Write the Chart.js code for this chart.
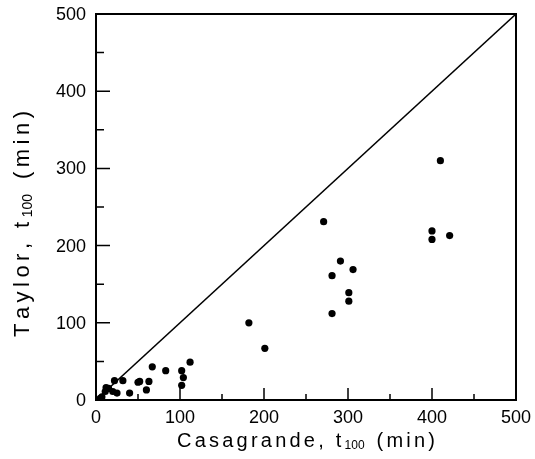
<!DOCTYPE html>
<html><head><meta charset="utf-8">
<script src="https://cdn.jsdelivr.net/npm/chart.js@4/dist/chart.umd.min.js"></script>
<style>html,body{margin:0;padding:0;background:#fff}#wrap{width:535px;height:459px;position:relative}</style>
</head><body><div id="wrap"><canvas id="c" width="535" height="459"></canvas></div>
<script>
const casagrande = [410, 400, 400, 421, 271, 291, 306, 281, 301, 301, 281, 182, 201, 112, 67, 83, 102, 104, 102, 52, 63, 60, 50, 40, 32, 22, 20, 25, 15, 12, 11, 7, 5];
const taylor =     [310, 219, 208, 213, 231, 180, 169, 161, 139, 128, 112, 100,  67,  49, 43, 38,  38,  29,  19, 24, 24, 13, 23,  9, 25, 25, 11,  9, 15, 16, 11, 4, 2];
const lineX = [0, 500];
const lineY = [0, 500];
const xTicks = [0, 100, 200, 300, 400, 500];
const yTicks = [0, 100, 200, 300, 400, 500];
const minorTicks = [50, 150, 250, 350, 450];
const xTitle = ['Casagrande, t', '100', ' (min)'];
const yTitle = ['Taylor, t', '100', ' (min)'];

const pts = casagrande.map((x, i) => ({x: x, y: taylor[i]}));
const diag = lineX.map((x, i) => ({x: x, y: lineY[i]}));

const FONT = '"Liberation Sans", Arial, sans-serif';

function measure(ctx, s, size, sp) {
  ctx.font = size + 'px ' + FONT;
  let w = 0;
  for (const ch of s) w += ctx.measureText(ch).width + sp;
  return w;
}
function drawSpaced(ctx, s, x, y, size, sp) {
  ctx.font = size + 'px ' + FONT;
  for (const ch of s) { ctx.fillText(ch, x, y); x += ctx.measureText(ch).width + sp; }
  return x;
}
// draws parts centered at origin, stretched by letter spacing to the target width
function drawSubTitle(ctx, parts, size, target) {
  const subSize = Math.round(size * 0.62);
  const n = [...parts[0]].length + [...parts[2]].length;
  const nat = measure(ctx, parts[0], size, 0) + measure(ctx, parts[1], subSize, 0) + measure(ctx, parts[2], size, 0);
  const sp = Math.max(0, (target - nat) / n);
  let x = -target / 2;
  x = drawSpaced(ctx, parts[0], x, 0, size, sp);
  x = drawSpaced(ctx, parts[1], x, size * 0.12, subSize, 0);
  drawSpaced(ctx, parts[2], x + sp, 0, size, sp);
}

const framePlugin = {
  id: 'frame',
  afterDatasetsDraw(chart) {
    const {ctx, chartArea: a, scales: {x, y}} = chart;
    ctx.save();
    ctx.strokeStyle = '#000';
    ctx.lineWidth = 2;
    ctx.strokeRect(a.left, a.top, a.right - a.left, a.bottom - a.top);
    ctx.lineWidth = 1.5;
    ctx.beginPath();
    xTicks.forEach(v => { const p = x.getPixelForValue(v); ctx.moveTo(p, a.bottom); ctx.lineTo(p, a.bottom - 12); });
    minorTicks.forEach(v => { const p = x.getPixelForValue(v); ctx.moveTo(p, a.bottom); ctx.lineTo(p, a.bottom - 6); });
    yTicks.forEach(v => { const p = y.getPixelForValue(v); ctx.moveTo(a.left, p); ctx.lineTo(a.left + 14, p); });
    minorTicks.forEach(v => { const p = y.getPixelForValue(v); ctx.moveTo(a.left, p); ctx.lineTo(a.left + 8, p); });
    ctx.stroke();
    ctx.fillStyle = '#000';
    // tick labels
    ctx.font = '18px ' + FONT;
    ctx.textBaseline = 'middle';
    ctx.textAlign = 'center';
    xTicks.forEach(v => ctx.fillText(String(v), x.getPixelForValue(v), a.bottom + 18));
    ctx.textAlign = 'right';
    yTicks.forEach(v => ctx.fillText(String(v), a.left - 10, y.getPixelForValue(v) + 1));
    // axis titles
    ctx.textBaseline = 'alphabetic';
    ctx.textAlign = 'left';
    ctx.save();
    ctx.translate((a.left + a.right) / 2, 447);
    drawSubTitle(ctx, xTitle, 20, 258);
    ctx.restore();
    ctx.save();
    ctx.translate(29, 224);
    ctx.rotate(-Math.PI / 2);
    drawSubTitle(ctx, yTitle, 22, 226);
    ctx.restore();
    ctx.restore();
  }
};

new Chart(document.getElementById('c'), {
  type: 'scatter',
  data: {
    datasets: [
      {data: pts, backgroundColor: '#000', borderColor: '#000', pointRadius: 3.6, pointHoverRadius: 3.6, borderWidth: 0},
      {type: 'line', data: diag, borderColor: '#000', borderWidth: 1.5, pointRadius: 0, fill: false, tension: 0}
    ]
  },
  options: {
    responsive: false,
    animation: false,
    devicePixelRatio: 1,
    layout: {padding: {left: 0, right: 19, top: 14, bottom: 0}},
    plugins: {legend: {display: false}, tooltip: {enabled: false}},
    scales: {
      x: {
        type: 'linear', min: 0, max: 500,
        afterBuildTicks: s => { s.ticks = xTicks.map(v => ({value: v})); },
        afterFit: s => { s.height = 59; },
        grid: {display: false, drawTicks: false},
        border: {display: false},
        ticks: {display: false}
      },
      y: {
        type: 'linear', min: 0, max: 500,
        afterBuildTicks: s => { s.ticks = yTicks.map(v => ({value: v})); },
        afterFit: s => { s.width = 96; },
        grid: {display: false, drawTicks: false},
        border: {display: false},
        ticks: {display: false}
      }
    }
  },
  plugins: [framePlugin]
});
</script></body></html>
